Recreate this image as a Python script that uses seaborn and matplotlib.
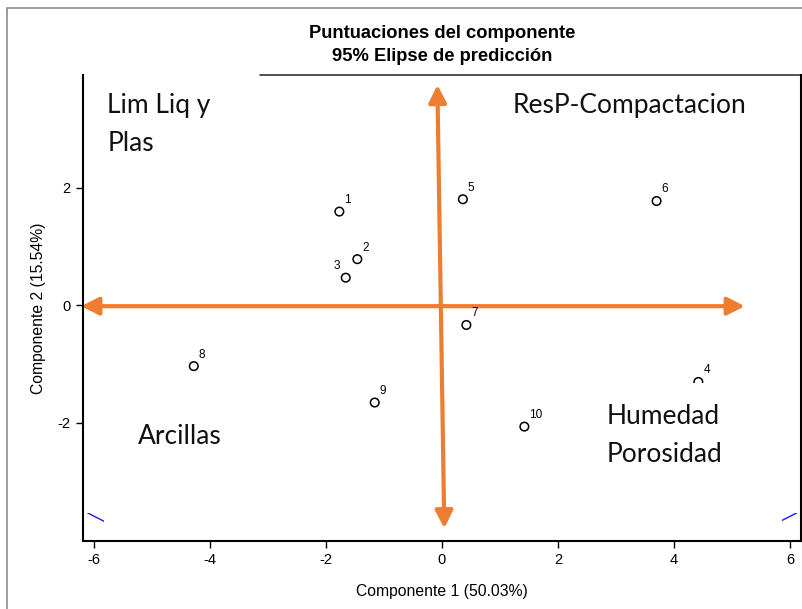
import numpy as np
import pandas as pd
import matplotlib
matplotlib.use("Agg")
import matplotlib.pyplot as plt
import seaborn as sns
from matplotlib.patches import Ellipse, Rectangle

# ---------------- data ----------------
obs = ["1", "2", "3", "4", "5", "6", "7", "8", "9", "10"]
comp1 = [-1.77, -1.46, -1.66, 4.42, 0.36, 3.70, 0.42, -4.28, -1.16, 1.42]
comp2 = [1.59, 0.78, 0.465, -1.31, 1.80, 1.77, -0.34, -1.04, -1.66, -2.07]
xticks = [-6, -4, -2, 0, 2, 4, 6]
yticks = [-2, 0, 2]
title = "Puntuaciones del componente\n95% Elipse de predicción"
xlabel = "Componente 1 (50.03%)"
ylabel = "Componente 2 (15.54%)"
quad_lines = ["Lim Liq y", "Plas", "ResP-Compactacion", "Arcillas", "Humedad", "Porosidad"]

df = pd.DataFrame({"obs": obs, "c1": comp1, "c2": comp2})

sns.set_style("ticks")
plt.rcParams["font.family"] = ["Liberation Sans", "DejaVu Sans"]
plt.rcParams["axes.unicode_minus"] = False
plt.rcParams["text.color"] = "black"
plt.rcParams["axes.labelcolor"] = "black"

fig = plt.figure(figsize=(8.03, 6.09), dpi=100)
ax = fig.add_axes([83 / 803, 1 - 541 / 609, 718 / 803, 466 / 609])

# outer frame (cropped at right/bottom)
fig.patches.append(Rectangle((7 / 803, -0.05), 1.1, 1.05 - 8 / 609, transform=fig.transFigure,
                             fill=False, edgecolor="#8c8c8c", lw=1.2, zorder=0))

# 95% prediction ellipse from the scores
X = df[["c1", "c2"]].to_numpy()
n, p = X.shape
mu = X.mean(axis=0)
S = np.cov(X.T)
F = (n - p) / 2 * ((0.05) ** (-2 / (n - p)) - 1)  # F(0.95; 2, n-2)
k2 = p * (n - 1) * (n + 1) / (n * (n - p)) * F
vals, vecs = np.linalg.eigh(S)
order = vals.argsort()[::-1]
vals, vecs = vals[order], vecs[:, order]
ang = np.degrees(np.arctan2(vecs[1, 0], vecs[0, 0]))
ell = Ellipse(mu, 2 * np.sqrt(k2 * vals[0]), 2 * np.sqrt(k2 * vals[1]), angle=ang,
              fill=False, edgecolor="#1a1aff", lw=1.0, zorder=1)
ax.add_patch(ell)

# white pasted panels that hide most of the ellipse
ax.add_patch(Rectangle((21 / 718, 0), 678 / 718, 1, transform=ax.transAxes,
                       facecolor="white", edgecolor="none", zorder=1.5))
ax.add_patch(Rectangle((0, 28 / 466), 1, 1 - 28 / 466, transform=ax.transAxes,
                       facecolor="white", edgecolor="none", zorder=1.5))

# points
sns.scatterplot(data=df, x="c1", y="c2", ax=ax, marker="o", s=38,
                facecolor="none", edgecolor="black", linewidth=1.1, zorder=3, legend=False)
for o, x, y in zip(df["obs"], df["c1"], df["c2"]):
    if o == "3":
        ax.annotate(o, (x, y), xytext=(-4, 4), textcoords="offset points",
                    ha="right", va="bottom", fontsize=8.5, zorder=4)
    else:
        ax.annotate(o, (x, y), xytext=(3.5, 4), textcoords="offset points",
                    ha="left", va="bottom", fontsize=8.5, zorder=4)

# white box behind "Humedad Porosidad"
ax.add_patch(Rectangle((2.6, -2.95), 3.2, 1.63, facecolor="white", edgecolor="none", zorder=3.5))

# orange arrows
orange = "#ED7D31"
aprops = dict(arrowstyle="<|-|>,head_length=0.55,head_width=0.28", color=orange, lw=3,
              mutation_scale=19, shrinkA=0, shrinkB=0)
ax.annotate("", xy=(5.22, -0.02), xytext=(-6.22, -0.02), arrowprops=aprops,
            annotation_clip=False, zorder=2)
ax.annotate("", xy=(-0.08, 3.745), xytext=(0.04, -3.80), arrowprops=aprops,
            annotation_clip=False, zorder=2)

# quadrant texts
qfont = dict(family=["Lato", "DejaVu Sans"], fontsize=19, color="#111111", va="baseline",
             ha="left", zorder=5)
ax.text(-5.77, 3.27, quad_lines[0], **qfont)
ax.text(-5.77, 2.62, quad_lines[1], **qfont)
ax.text(1.22, 3.27, quad_lines[2], **qfont)
ax.text(-5.25, -2.37, quad_lines[3], **qfont)
ax.text(2.84, -2.03, quad_lines[4], **qfont)
ax.text(2.84, -2.67, quad_lines[5], **qfont)

# axes styling
ax.set_xlim(-6.19, 6.19)
ax.set_ylim(-4.017, 3.915)
ax.set_xticks(xticks)
ax.set_yticks(yticks)
ax.set_xticklabels([str(t) for t in xticks])
ax.set_yticklabels([str(t) for t in yticks])
ax.tick_params(direction="out", length=5, width=1, labelsize=10.5, pad=4, colors="black")
for s in ["left", "bottom", "right"]:
    ax.spines[s].set_visible(True)
    ax.spines[s].set_color("black")
    ax.spines[s].set_linewidth(1.5)
    ax.spines[s].set_zorder(6)
ax.spines["top"].set_visible(False)
ax.plot([177 / 718, 1], [1, 1], transform=ax.transAxes, color="#333333", lw=1.2,
        clip_on=False, zorder=6)

ax.set_xlabel(xlabel, fontsize=11.3, labelpad=12, color="black")
ax.set_ylabel(ylabel, fontsize=11.3, labelpad=8, color="black")
fig.text(442.5 / 803, 1 - 45 / 609, title, ha="center", va="center", fontsize=13.2,
         fontweight="bold", linespacing=1.5, color="black")

fig.savefig("out.png", dpi=100)
